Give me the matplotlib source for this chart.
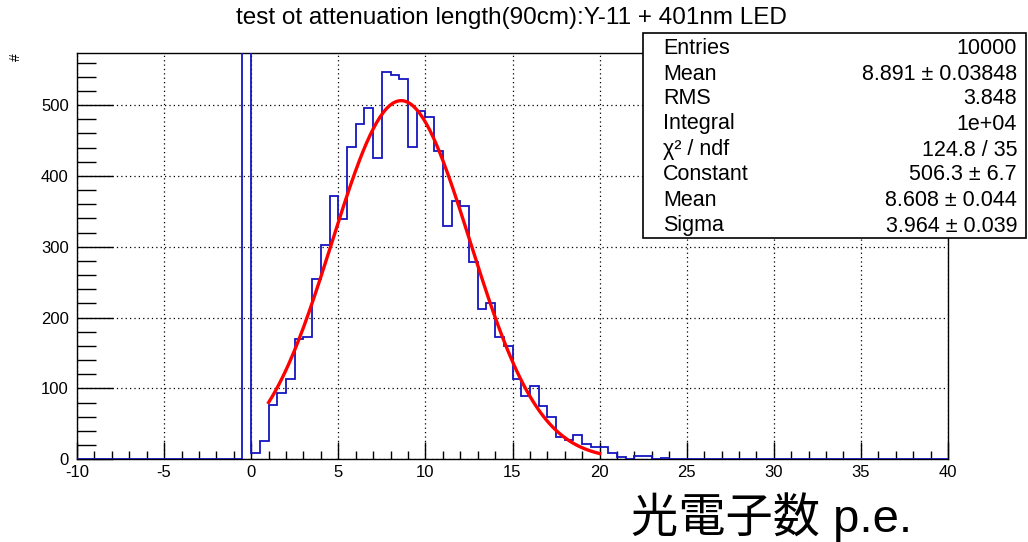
import numpy as np
import matplotlib
matplotlib.use('Agg')
import matplotlib.pyplot as plt
from matplotlib.patches import Rectangle
from matplotlib.ticker import MultipleLocator

plt.rcParams['font.family'] = ['Liberation Sans', 'DejaVu Sans']
plt.rcParams['axes.unicode_minus'] = False

# histogram: 100 bins of 0.5 from -10 to 40
bin_lo = -10.0
bin_width = 0.5
counts = ([0] * 19
          + [600]  # pedestal bin [-0.5, 0], off scale
          + [9, 26, 76, 94, 113, 170, 172, 255, 302, 371,
             339, 441, 474, 496, 425, 547, 542, 537, 441, 491,
             483, 435, 330, 365, 357, 278, 212, 220, 173, 160,
             113, 90, 103, 75, 60, 32, 27, 34, 21, 18,
             17, 9, 3, 1, 5, 4, 0, 2, 1, 1,
             0, 0, 1]
          + [0] * 27)

# gaussian fit (from the stats box)
fit_const = 506.3
fit_mean = 8.608
fit_sigma = 3.964
fit_range = (1.0, 20.0)

title = 'test ot attenuation length(90cm):Y-11 + 401nm LED'
stats_labels = ['Entries', 'Mean', 'RMS', 'Integral', 'χ² / ndf',
                'Constant', 'Mean', 'Sigma']
stats_values = ['10000', '8.891 ± 0.03848', '3.848', '1e+04',
                '124.8 / 35', '506.3 ± 6.7', '8.608 ± 0.044',
                '3.964 ± 0.039']

W, H = 1028, 542
fig = plt.figure(figsize=(W / 100, H / 100), dpi=100)
ax = fig.add_axes([77 / W, 1 - 459.3 / H, (948 - 77) / W, (459.3 - 52.7) / H])

edges = bin_lo + bin_width * np.arange(len(counts) + 1)
ax.stairs(counts, edges, color='#1515c0', linewidth=1.3, zorder=3)

xf = np.linspace(fit_range[0], fit_range[1], 200)
ax.plot(xf, fit_const * np.exp(-0.5 * ((xf - fit_mean) / fit_sigma) ** 2),
        color='#ff0000', linewidth=2.4, zorder=4)

ax.set_xlim(-10, 40)
ax.set_ylim(0, 574)
ax.xaxis.set_major_locator(MultipleLocator(5))
ax.xaxis.set_minor_locator(MultipleLocator(1))
ax.yaxis.set_major_locator(MultipleLocator(100))
ax.yaxis.set_minor_locator(MultipleLocator(20))
ax.tick_params(axis='x', which='major', direction='in', length=12, width=1,
               labelsize=12, pad=4, top=False)
ax.tick_params(axis='x', which='minor', direction='in', length=6, width=1, top=False)
ax.tick_params(axis='y', which='major', direction='in', length=26, width=1,
               labelsize=12, pad=6, right=False)
ax.tick_params(axis='y', which='minor', direction='in', length=14, width=1, right=False)
ax.grid(True, which='major', color='black', linestyle=(0, (1, 2.5)), linewidth=0.9)
for s in ax.spines.values():
    s.set_linewidth(1)
    s.set_color('black')

fig.text(511 / W, 1 - 18 / H, title, ha='center', va='center', fontsize=17.5)
fig.text(16 / W, 1 - 57 / H, '#', ha='center', va='center', fontsize=10, rotation=90)

# stats box
box = Rectangle((643 / W, 1 - 238 / H), (1026 - 643) / W, (238 - 33) / H,
                transform=fig.transFigure, facecolor='white', edgecolor='black',
                linewidth=1.2, zorder=5)
fig.add_artist(box)
row_y = [48, 74, 99, 124, 150, 175, 201, 226]
for lab, val, yy in zip(stats_labels, stats_values, row_y):
    fig.text(663 / W, 1 - yy / H, lab, ha='left', va='center', fontsize=15.5, zorder=6)
    fig.text(1017 / W, 1 - yy / H, val, ha='right', va='center', fontsize=15.5, zorder=6)

fig.text(912 / W, 1 - 517 / H, '光電子数 p.e.', ha='right', va='center', fontsize=34,
         family=['Liberation Sans', 'Noto Sans CJK JP'])

fig.savefig('out.png', dpi=100, facecolor='white')
